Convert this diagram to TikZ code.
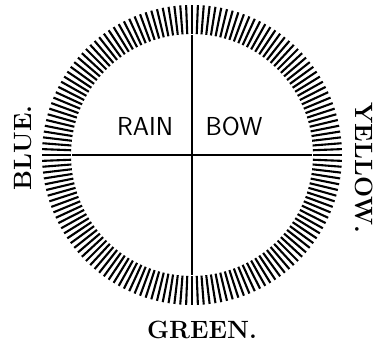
\documentclass[tikz,border=0pt]{standalone}
\usepackage{fontspec}
\usetikzlibrary{calc}
\begin{document}
\begin{tikzpicture}[x=1pt,y=1pt,
    colour/.style={font=\fontsize{25}{26}\selectfont\bfseries},
    word/.style={font=\fontsize{26}{28}\selectfont\sffamily},
    ray/.style={line width=2.1pt},
    arm/.style={line width=2pt}]
            \useasboundingbox (0,0) rectangle (376,347);
            % Define coordinates
            \coordinate (c) at (192,192);
            \foreach \name/\angle in {east/0, north/90, west/180, south/270} {
                \coordinate (\name) at ($(c)+(\angle:120)$);
            }
            
            % Draw ring of rays
            \foreach \a in {0,2.25,...,357.75} {
                \draw[ray] ($(c)+(\a:121)$) -- ($(c)+(\a:150)$);
            }
            
            % Draw cross
            \draw[arm] (west) -- (east);
            \draw[arm] (north) -- (south);
            
            % Words in the circle
            \node[word] (rain) at (145,221) {RAIN};
            \node[word] (bow) at (234,221) {BOW};
            
            % Colour labels
            \node[colour, rotate=90] (blue) at (23,199) {BLUE.};
            \node[colour, rotate=-90] (yellow) at (364,179) {YELLOW.};
            \node[colour] (green) at (202,17) {GREEN.};
            
        \end{tikzpicture}
\end{document}
